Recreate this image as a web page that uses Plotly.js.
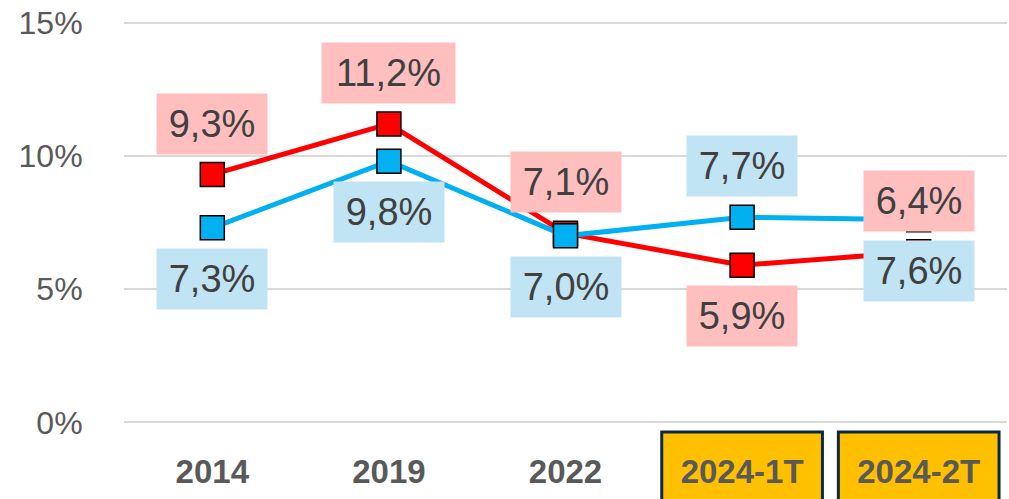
<!DOCTYPE html>
<html><head><meta charset="utf-8">
<script src="https://cdn.plot.ly/plotly-3.0.1.min.js"></script>
<style>html,body{margin:0;padding:0;background:#fff}#c{width:1009px;height:499px}</style>
</head><body><div id="c"></div>
<script>
var categories = ["2014", "2019", "2022", "2024-1T", "2024-2T"];
var redValues = [9.3, 11.2, 7.1, 5.9, 6.4];
var blueValues = [7.3, 9.8, 7.0, 7.7, 7.6];
var redLabelSide = [1, 1, 1, -1, 1];
var blueLabelSide = [-1, -1, -1, 1, -1];
var highlighted = ["2024-1T", "2024-2T"];
var yTicks = [0, 5, 10, 15];
var yTickText = ["0%", "5%", "10%", "15%"];

function fmt(v){ return v.toFixed(1).replace(".", ",") + "%"; }

var traces = [
  {x: categories, y: redValues, type: "scatter", mode: "lines+markers",
   line: {color: "#FF0000", width: 5},
   marker: {symbol: "square", size: 24, color: "#FF0000", line: {color: "#000", width: 1.5}},
   hoverinfo: "none"},
  {x: categories, y: blueValues, type: "scatter", mode: "lines+markers",
   line: {color: "#00B0F0", width: 5},
   marker: {symbol: "square", size: 24, color: "#00B0F0", line: {color: "#000", width: 1.5}},
   hoverinfo: "none"}
];

var annotations = [];
function addLabels(vals, sides, bg){
  vals.forEach(function(v, i){
    var t = fmt(v);
    annotations.push({x: i, y: v, xref: "x", yref: "y", text: t,
      showarrow: false, yshift: 51 * sides[i], bgcolor: bg,
      width: t.length > 4 ? 133 : 110, height: 60, borderpad: 0,
      font: {family: "Liberation Sans, Arial, sans-serif", size: 38, color: "#404040"}});
  });
}
addLabels(redValues, redLabelSide, "#FFBFBF");
addLabels(blueValues, blueLabelSide, "#C0E4F4");

var shapes = highlighted.map(function(c){
  var i = categories.indexOf(c);
  return {type: "rect", xref: "x", yref: "paper", x0: i - 0.455, x1: i + 0.455,
    y0: -0.02, y1: -0.3, layer: "below", fillcolor: "#FFC000",
    line: {color: "#0E2841", width: 3}};
});

var layout = {
  width: 1009, height: 499,
  margin: {l: 124, r: 2, t: 21, b: 75},
  paper_bgcolor: "#fff", plot_bgcolor: "#fff",
  showlegend: false,
  xaxis: {type: "category", range: [-0.5, 4.5], showgrid: false, zeroline: false,
    showline: false, ticks: "outside", ticklen: 18, tickcolor: "rgba(0,0,0,0)",
    tickfont: {family: "Liberation Sans, Arial, sans-serif", size: 33, color: "#595959", weight: "bold"},
    fixedrange: true},
  yaxis: {range: [-0.06, 15.06], tickvals: yTicks, ticktext: yTickText,
    showgrid: true, gridcolor: "#D9D9D9", gridwidth: 2, zeroline: false,
    showline: false, ticks: "outside", ticklen: 34, tickcolor: "rgba(0,0,0,0)",
    tickfont: {family: "Liberation Sans, Arial, sans-serif", size: 32, color: "#595959"},
    fixedrange: true},
  annotations: annotations,
  shapes: shapes
};
Plotly.newPlot("c", traces, layout, {displayModeBar: false, staticPlot: true});
</script></body></html>
